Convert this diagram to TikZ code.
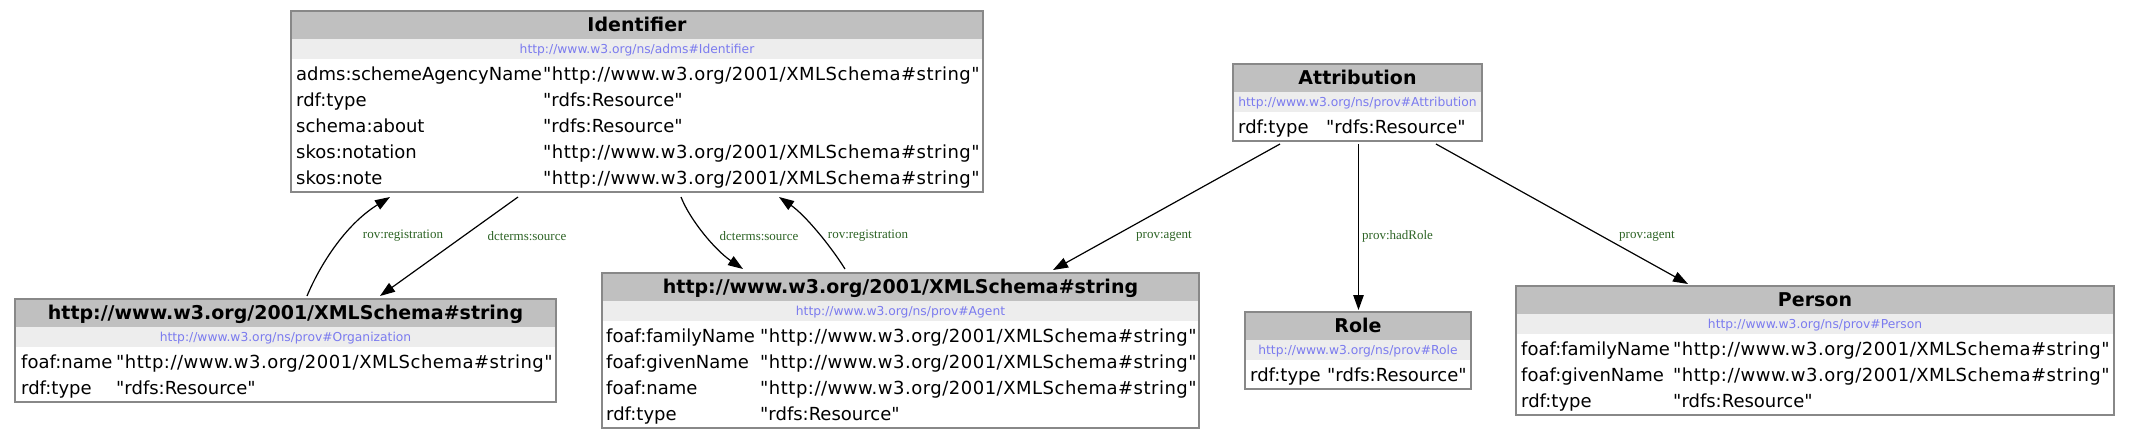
\documentclass[tikz,border=0pt]{standalone}
\usepackage{fontspec}
\setmainfont{DejaVu Sans}
\newfontfamily\plainfont{DejaVu Sans}
\newfontfamily\valfont{DejaVu Sans}[LetterSpace=2.8]
\newfontfamily\lblfont{Liberation Serif}
\usetikzlibrary{arrows.meta,calc}
\definecolor{hdrgray}{HTML}{C0C0C0}
\definecolor{urlgray}{HTML}{EDEDED}
\definecolor{bordergray}{HTML}{888888}
\definecolor{urlblue}{HTML}{7B7BEF}
\definecolor{lblgreen}{HTML}{2E6426}

\tikzset{
 tblbox/.style={draw=bordergray, line width=1.5pt, inner sep=0pt, outer sep=0pt, anchor=north west},
 titletext/.style={font=\fontsize{19}{21}\selectfont\bfseries, anchor=base, inner sep=0pt},
 urltext/.style={font=\fontsize{12.3}{14}\selectfont, text=urlblue, anchor=base, inner sep=0pt},
 celltext/.style={font=\plainfont\fontsize{18}{20}\selectfont, anchor=base west, inner sep=0pt},
 edge/.style={line width=1.2pt, -{Triangle[length=15pt,width=10.5pt]}},
 elabel/.style={font=\lblfont\fontsize{13}{15}\selectfont, text=lblgreen, inner sep=0pt},
}

% #1 name, #2 left, #3 top, #4 right, #5 rows, #6 title, #7 url
\newcommand{\tabbox}[7]{%
 \fill[hdrgray] (#2,#3) rectangle (#4,#3+28);
 \fill[urlgray] (#2,#3+28) rectangle (#4,#3+48);
 \node[tblbox, minimum width={(#4-#2)*1pt}, minimum height={(48+26*#5+3)*1pt}] (#1) at (#2,#3) {};
 \node[titletext] (#1-title) at ({(#2+#4)/2},#3+20.5) {#6};
 \node[urltext] (#1-url) at ({(#2+#4)/2},#3+42.5) {#7};
}
% #1 name, #2 top, #3 index, #4 keyx, #5 valx, #6 key, #7 value
\newcommand{\kvrow}[7]{%
 \node[celltext] (#1-k#3) at (#4,#2+63+26*#3+6.5) {#6};
 \node[celltext] (#1-v#3) at (#5,#2+63+26*#3+6.5) {#7};
}
\newcommand{\dq}{\char34\relax}
\newcommand{\xsdstr}{{\valfont\dq http://www.w3.org/2001/XMLSchema\#string\dq}}
\newcommand{\rdfsres}{{\plainfont\dq rdfs:Resource\dq}}

\begin{document}
\begin{tikzpicture}[x=1pt,y=-1pt]
\fill[white] (0,0) rectangle (2130,440);
\useasboundingbox (0,0) rectangle (2130,440);

% Identifier
\tabbox{ident}{291}{11}{983}{5}{Identifier}{http://www.w3.org/ns/adms\#Identifier}
\kvrow{ident}{11}{0}{296}{543}{adms:schemeAgencyName}{\xsdstr}
\kvrow{ident}{11}{1}{296}{543}{rdf:type}{\rdfsres}
\kvrow{ident}{11}{2}{296}{543}{schema:about}{\rdfsres}
\kvrow{ident}{11}{3}{296}{543}{skos:notation}{\xsdstr}
\kvrow{ident}{11}{4}{296}{543}{skos:note}{\xsdstr}

% Attribution
\tabbox{attr}{1233}{64}{1482}{1}{Attribution}{http://www.w3.org/ns/prov\#Attribution}
\kvrow{attr}{64}{0}{1238}{1326}{rdf:type}{\rdfsres}

% Organization
\tabbox{org}{15}{299}{556}{2}{http://www.w3.org/2001/XMLSchema\#string}{http://www.w3.org/ns/prov\#Organization}
\kvrow{org}{299}{0}{21}{116}{foaf:name}{\xsdstr}
\kvrow{org}{299}{1}{21}{116}{rdf:type}{\rdfsres}

% Agent
\tabbox{agent}{602}{273}{1199}{4}{http://www.w3.org/2001/XMLSchema\#string}{http://www.w3.org/ns/prov\#Agent}
\kvrow{agent}{273}{0}{606}{760}{foaf:familyName}{\xsdstr}
\kvrow{agent}{273}{1}{606}{760}{foaf:givenName}{\xsdstr}
\kvrow{agent}{273}{2}{606}{760}{foaf:name}{\xsdstr}
\kvrow{agent}{273}{3}{606}{760}{rdf:type}{\rdfsres}

% Role
\tabbox{role}{1245}{312}{1471}{1}{Role}{http://www.w3.org/ns/prov\#Role}
\kvrow{role}{312}{0}{1250}{1327}{rdf:type}{\rdfsres}

% Person
\tabbox{person}{1516}{286}{2114}{3}{Person}{http://www.w3.org/ns/prov\#Person}
\kvrow{person}{286}{0}{1521}{1673}{foaf:familyName}{\xsdstr}
\kvrow{person}{286}{1}{1521}{1673}{foaf:givenName}{\xsdstr}
\kvrow{person}{286}{2}{1521}{1673}{rdf:type}{\rdfsres}

% Edges
\draw[edge] ($(org.north west)+(292,-3)$) .. controls ($(org.north west)+(305,-34)$) and ($(ident.south west)+(54,33)$) .. ($(ident.south west)+(99,5)$);
\draw[edge] ($(ident.south west)+(227,5)$) -- ($(org.north west)+(365,-3)$);
\draw[edge] ($(ident.south west)+(390,5)$) .. controls ($(ident.south west)+(399,28)$) and ($(agent.north west)+(113,-23)$) .. ($(agent.north west)+(141,-4)$);
\draw[edge] ($(agent.north west)+(243,-4)$) .. controls ($(agent.north west)+(228,-28)$) and ($(ident.south west)+(514,23)$) .. ($(ident.south west)+(488,5)$);
\draw[edge] ($(attr.south west)+(47,3)$) -- ($(agent.north west)+(451,-3)$);
\draw[edge, line width=1pt] ($(attr.south west)+(125.5,3)$) -- ($(role.north west)+(113.5,-2)$);
\draw[edge] ($(attr.south west)+(203,3)$) -- ($(person.north west)+(172,-2)$);

% Edge labels
\node[elabel] (l1) at (403,236) {rov:registration};
\node[elabel] (l2) at (527,236) {dcterms:source};
\node[elabel] (l3) at (759,236) {dcterms:source};
\node[elabel] (l4) at (868,236) {rov:registration};
\node[elabel] (l5) at (1164,236) {prov:agent};
\node[elabel, anchor=west] (l6) at (1362,236) {prov:hadRole};
\node[elabel] (l7) at (1647,236) {prov:agent};
\end{tikzpicture}
\end{document}
